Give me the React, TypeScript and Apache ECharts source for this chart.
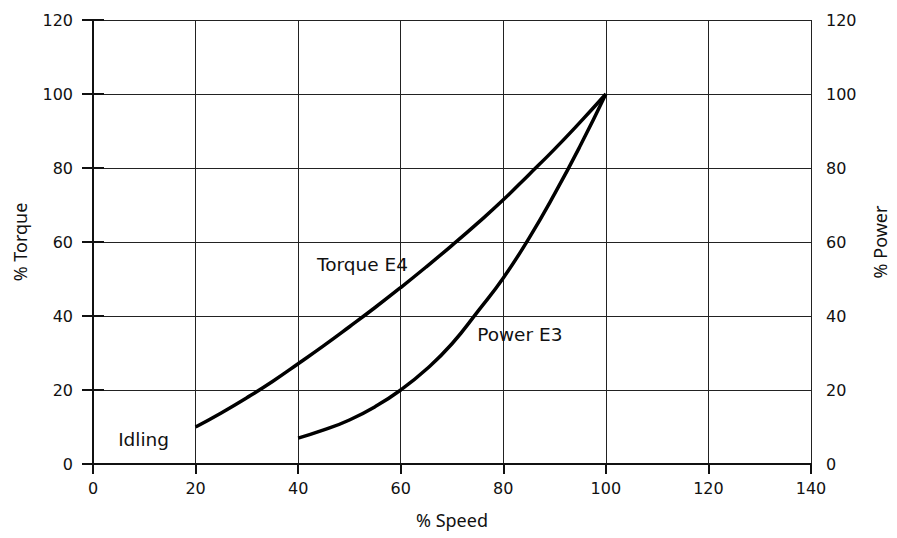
import React, { useEffect, useRef } from "react";
import * as echarts from "echarts";

const speedTicks = [0, 20, 40, 60, 80, 100, 120, 140];
const torqueSpeed = [20, 25, 30, 35, 40, 45, 50, 55, 60, 65, 70, 75, 80, 85, 90, 95, 100];
const torqueValues = [10, 13.8, 17.9, 22.3, 27.1, 32, 37.1, 42.3, 47.7, 53.3, 59.1, 65.1, 71.4, 78.2, 85.1, 92.4, 100];
const powerSpeed = [40, 45, 50, 55, 60, 65, 70, 75, 80, 85, 90, 95, 100];
const powerValues = [7, 9.2, 11.9, 15.5, 20, 25.6, 32.5, 41.2, 50.3, 61, 73, 86, 100];
const annotations = [
  { text: "Torque E4", x: 43.7, y: 53.8 },
  { text: "Power E3", x: 74.9, y: 34.9 },
  { text: "Idling", x: 4.9, y: 6.5 },
];

const tickFont = "DejaVu Sans";
const nameFont = "Noto Sans";

export default function App() {
  const ref = useRef<HTMLDivElement>(null);
  useEffect(() => {
    if (!ref.current) return;
    const chart = echarts.init(ref.current, undefined, { renderer: "svg" });
    const axisLine = { show: true, lineStyle: { color: "#111", width: 2 } };
    const tickLabel = { color: "#111", fontFamily: tickFont, fontSize: 16 };
    const nameStyle = { color: "#111", fontFamily: nameFont, fontSize: 18 };
    const option: any = {
      animation: false,
      backgroundColor: "#fff",
      grid: { left: 93, right: 84, top: 20, bottom: 74, containLabel: false },
      xAxis: [
        {
          type: "value",
          min: speedTicks[0],
          max: speedTicks[speedTicks.length - 1],
          interval: 20,
          position: "bottom",
          name: "% Speed",
          nameLocation: "middle",
          nameGap: 47,
          nameTextStyle: nameStyle,
          axisLine,
          axisTick: { show: true, inside: false, length: 10, lineStyle: { color: "#111", width: 2 } },
          axisLabel: { ...tickLabel, margin: 16 },
          splitLine: { show: true, lineStyle: { color: "#222", width: 1 } },
        },
        {
          type: "value",
          min: 0,
          max: 140,
          interval: 20,
          position: "top",
          axisLine,
          axisTick: { show: false },
          axisLabel: { show: false },
          splitLine: { show: false },
        },
      ],
      yAxis: [
        {
          type: "value",
          min: 0,
          max: 120,
          interval: 20,
          position: "left",
          name: "% Torque",
          nameLocation: "middle",
          nameRotate: 90,
          nameGap: 64,
          nameTextStyle: nameStyle,
          axisLine,
          axisTick: { show: true, inside: false, length: 11, lineStyle: { color: "#111", width: 2 } },
          axisLabel: { ...tickLabel, margin: 20 },
          splitLine: { show: true, lineStyle: { color: "#222", width: 1 } },
        },
        {
          type: "value",
          min: 0,
          max: 120,
          interval: 20,
          position: "right",
          name: "% Power",
          nameLocation: "middle",
          nameRotate: 90,
          nameGap: 60,
          nameTextStyle: nameStyle,
          axisLine,
          axisTick: { show: true, inside: false, length: 11, lineStyle: { color: "#111", width: 2 } },
          axisLabel: { ...tickLabel, margin: 15 },
          splitLine: { show: false },
        },
      ],
      series: [
        {
          name: "Torque E4",
          type: "line",
          yAxisIndex: 0,
          data: torqueSpeed.map((s, i) => [s, torqueValues[i]]),
          smooth: 0.5,
          showSymbol: false,
          lineStyle: { color: "#000", width: 3.5 },
          z: 5,
        },
        {
          name: "Power E3",
          type: "line",
          yAxisIndex: 1,
          data: powerSpeed.map((s, i) => [s, powerValues[i]]),
          smooth: 0.5,
          showSymbol: false,
          lineStyle: { color: "#000", width: 3.5 },
          z: 5,
        },
      ],
    };
    chart.setOption(option);
    const graphics = annotations.map((a) => {
      const [px, py] = chart.convertToPixel({ xAxisIndex: 0, yAxisIndex: 0 }, [a.x, a.y]);
      return {
        type: "text",
        x: px,
        y: py,
        style: {
          text: a.text,
          fill: "#111",
          font: `18.5px "${tickFont}"`,
          textAlign: "left",
          textVerticalAlign: "middle",
        },
        z: 10,
      };
    });
    chart.setOption({ graphic: graphics });
    return () => chart.dispose();
  }, []);
  return (
    <div
      ref={ref}
      style={{ position: "fixed", left: 0, top: 0, width: 897, height: 538 }}
    />
  );
}
